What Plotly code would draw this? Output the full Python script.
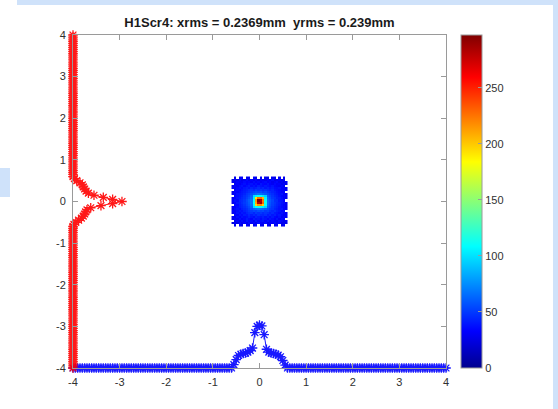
import numpy as np
import plotly.graph_objects as go

# Beam spot on screen H1Scr4: 2D histogram counts (0 = empty bin), bins 0.05 mm
cell = 0.05
counts = [
    [0, 28, 0, 31, 26, 0, 33, 29, 0, 27, 35, 0, 30, 28, 0, 32, 26, 0, 29, 34, 0, 27, 31, 0],
    [24, 31, 27, 35, 29, 33, 28, 36, 30, 34, 29, 37, 32, 30, 35, 28, 33, 31, 36, 29, 34, 27, 30, 26],
    [0, 29, 34, 30, 36, 31, 38, 33, 35, 30, 39, 34, 36, 38, 33, 37, 31, 35, 32, 30, 36, 33, 28, 31],
    [27, 33, 30, 37, 32, 35, 40, 36, 34, 41, 37, 39, 35, 40, 38, 34, 39, 36, 33, 38, 31, 35, 32, 0],
    [30, 28, 36, 33, 38, 35, 37, 42, 39, 36, 43, 40, 38, 42, 37, 41, 36, 40, 35, 33, 37, 30, 34, 29],
    [0, 34, 31, 38, 35, 41, 39, 44, 41, 45, 42, 47, 44, 43, 46, 40, 44, 39, 42, 36, 39, 34, 31, 33],
    [29, 32, 37, 35, 40, 38, 43, 46, 48, 44, 50, 47, 49, 45, 48, 46, 42, 45, 40, 38, 35, 37, 33, 30],
    [33, 30, 35, 39, 37, 42, 45, 49, 51, 54, 52, 56, 53, 55, 50, 52, 47, 44, 46, 41, 38, 34, 36, 0],
    [26, 35, 38, 36, 41, 44, 47, 52, 57, 62, 65, 68, 66, 63, 60, 55, 50, 48, 43, 40, 37, 39, 32, 31],
    [31, 33, 36, 40, 43, 46, 50, 55, 63, 100, 108, 112, 110, 104, 97, 62, 54, 49, 45, 42, 38, 35, 34, 28],
    [0, 36, 34, 41, 44, 48, 53, 58, 66, 106, 195, 215, 220, 200, 110, 66, 57, 51, 47, 43, 40, 36, 33, 30],
    [28, 34, 39, 42, 46, 50, 54, 60, 68, 112, 210, 280, 290, 230, 114, 68, 58, 52, 48, 44, 41, 37, 35, 27],
    [32, 37, 35, 43, 45, 49, 55, 61, 67, 110, 215, 297, 285, 225, 112, 67, 59, 53, 46, 45, 39, 38, 34, 0],
    [29, 33, 38, 40, 44, 47, 52, 57, 64, 104, 190, 225, 230, 205, 106, 64, 56, 50, 47, 42, 40, 36, 31, 29],
    [0, 35, 36, 39, 42, 46, 50, 54, 61, 98, 104, 110, 108, 102, 95, 60, 53, 48, 44, 41, 37, 34, 33, 30],
    [30, 32, 37, 38, 40, 43, 48, 51, 55, 60, 63, 66, 65, 62, 58, 54, 49, 46, 42, 39, 36, 38, 31, 28],
    [27, 34, 33, 36, 39, 41, 44, 47, 50, 52, 55, 53, 56, 51, 54, 49, 46, 43, 41, 37, 35, 32, 34, 0],
    [0, 31, 35, 34, 37, 40, 42, 45, 47, 44, 49, 46, 48, 45, 47, 44, 41, 43, 38, 36, 34, 33, 30, 31],
    [32, 29, 34, 37, 35, 39, 41, 38, 43, 40, 42, 45, 41, 44, 39, 42, 38, 40, 36, 35, 37, 31, 33, 28],
    [26, 33, 30, 35, 38, 34, 37, 40, 36, 39, 35, 41, 38, 36, 40, 37, 35, 38, 34, 32, 30, 34, 29, 0],
    [0, 30, 32, 29, 34, 37, 33, 36, 38, 34, 37, 33, 39, 35, 34, 38, 33, 30, 35, 31, 33, 28, 32, 27],
    [29, 27, 33, 31, 30, 35, 32, 34, 31, 36, 32, 35, 30, 34, 36, 31, 34, 29, 32, 35, 28, 31, 26, 30],
    [25, 31, 28, 34, 27, 30, 35, 28, 33, 29, 34, 27, 32, 30, 28, 33, 30, 35, 27, 29, 32, 26, 30, 0],
    [0, 26, 0, 29, 32, 0, 27, 30, 0, 33, 28, 0, 31, 0, 29, 26, 0, 30, 27, 0, 31, 0, 28, 0],
]

# Projected profiles (normalised), sampled every 0.05 mm over [-0.6, 0.6]; zero elsewhere
x_profile_core = [0.00, 0.08, 0.20, 0.30, 0.33, 0.35, 0.36, 0.38, 0.42, 0.48, 0.85, 1.00, 1.03,
                  1.01, 0.80, 0.45, 0.38, 0.36, 0.35, 0.33, 0.31, 0.27, 0.18, 0.07, 0.00]
y_profile_core = [0.00, 0.02, 0.06, 0.12, 0.18, 0.22, 0.25, 0.27, 0.30, 0.38, 0.60, 0.85, 1.05,
                  0.85, 0.65, 0.45, 0.33, 0.28, 0.25, 0.22, 0.20, 0.15, 0.08, 0.03, 0.00]

axis_ticks = [-4, -3, -2, -1, 0, 1, 2, 3, 4]
axis_labels = ["-4", "-3", "-2", "-1", "0", "1", "2", "3", "4"]
cbar_ticks = [0, 50, 100, 150, 200, 250]
title_text = "H1Scr4: xrms = 0.2369mm\u00a0 yrms = 0.239mm"

# MATLAB-style jet colormap
jet = [
    [0.0, "rgb(0,0,143)"],
    [0.1111, "rgb(0,0,255)"],
    [0.3651, "rgb(0,255,255)"],
    [0.6190, "rgb(255,255,0)"],
    [0.8730, "rgb(255,0,0)"],
    [1.0, "rgb(128,0,0)"],
]

n = len(counts)
centers = (np.arange(n) - (n - 1) / 2) * cell
z = [[v if v > 0 else None for v in row] for row in counts]

grid = np.round(np.arange(-4, 4 + 1e-9, 0.05), 4)
core_pos = np.round(np.arange(-0.6, 0.6 + 1e-9, 0.05), 4)


def full_profile(core):
    vals = np.zeros_like(grid)
    for p, v in zip(core_pos, core):
        vals[np.argmin(np.abs(grid - p))] = v
    return vals


xprof = full_profile(x_profile_core)
yprof = full_profile(y_profile_core)

axis_col = "#9a9a9a"
text_col = "#303030"
font_fam = "Liberation Sans, Arial, Helvetica, sans-serif"

fig = go.Figure()
fig.add_trace(go.Heatmap(
    x=centers, y=centers, z=z, zmin=0, zmax=297, colorscale=jet,
    hoverongaps=False,
    colorbar=dict(
        x=1.0402, xanchor="left", xpad=0, y=0.5, yanchor="middle", ypad=0,
        len=1.0, lenmode="fraction", thickness=21,
        outlinecolor=axis_col, outlinewidth=1,
        tickvals=cbar_ticks, ticks="inside", ticklen=4, tickcolor=axis_col,
        tickfont=dict(size=11, color=text_col, family=font_fam),
    ),
))


def profile_style(col):
    return dict(
        mode="lines+markers",
        line=dict(color=col, width=1),
        marker=dict(symbol="asterisk-open", size=8, color=col,
                    line=dict(color=col, width=1.3)),
        cliponaxis=False, showlegend=False, opacity=0.9,
    )


fig.add_trace(go.Scatter(x=grid, y=-4 + xprof, **profile_style("rgb(0,0,255)")))
fig.add_trace(go.Scatter(x=-4 + yprof, y=grid, **profile_style("rgb(255,0,0)")))

axis_common = dict(
    range=[-4, 4], tickvals=axis_ticks, ticktext=axis_labels,
    showgrid=False, zeroline=False,
    showline=True, linecolor=axis_col, linewidth=1, mirror="ticks",
    ticks="inside", ticklen=5, tickcolor=axis_col,
    tickfont=dict(size=11, color=text_col, family=font_fam),
)

frame = "rgb(207,226,250)"
shapes = [
    dict(type="rect", xref="paper", yref="paper", x0=-0.1501, x1=1.31, y0=1.0901, y1=1.13,
         fillcolor=frame, line=dict(width=0), layer="below"),
    dict(type="rect", xref="paper", yref="paper", x0=1.2869, x1=1.31, y0=-0.13, y1=1.13,
         fillcolor=frame, line=dict(width=0), layer="below"),
    dict(type="rect", xref="paper", yref="paper", x0=-0.2, x1=-0.1689, y0=0.5135, y1=0.6006,
         fillcolor=frame, line=dict(width=0), layer="below"),
]

fig.update_layout(
    width=558, height=409,
    margin=dict(l=73, r=112, t=35, b=41),
    paper_bgcolor="white", plot_bgcolor="white",
    title=dict(text="<b>" + title_text + "</b>", x=(259.5 / 558), xanchor="center",
               y=1 - 22 / 409, yanchor="middle",
               font=dict(size=13, color="#1a1a1a", family=font_fam)),
    xaxis=dict(axis_common, ticklabelstandoff=4),
    yaxis=dict(axis_common, ticklabelstandoff=4),
    shapes=shapes,
)

fig.write_html("out.html")
